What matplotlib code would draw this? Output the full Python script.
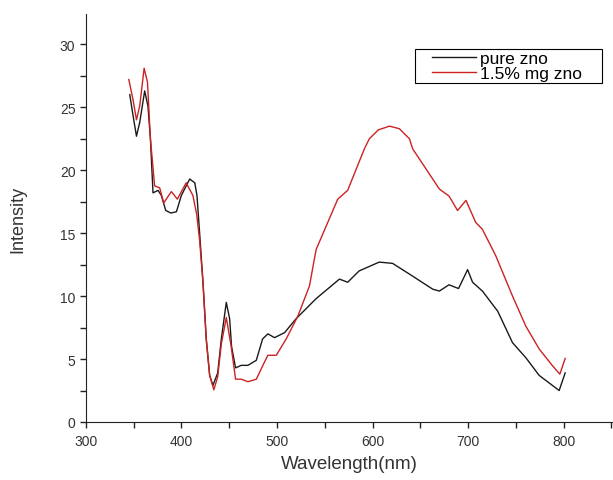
import matplotlib
matplotlib.use("Agg")
import matplotlib.pyplot as plt
from matplotlib.ticker import MultipleLocator
from matplotlib.legend_handler import HandlerLine2D

plt.rcParams['font.family'] = ['Liberation Sans', 'DejaVu Sans']

# pure zno
wl_pure = [346, 349.5, 353, 356.4, 361.6, 365, 367.6, 370.3, 375.6, 379, 383.6, 389, 394.8,
           400, 408.7, 414, 416.3, 419, 422.6, 426, 429.6, 433, 438, 441.8, 447, 450.5,
           452.5, 456.7, 462.7, 469.6, 478.4, 485, 490.5, 497.5, 508, 520, 541, 565.4,
           574, 586, 607, 621, 638.6, 663, 670, 680, 690, 699.5, 704.7, 715, 731, 746.5,
           760.5, 774.4, 786.6, 795.3, 801.6]
int_pure = [26.0, 24.3, 22.7, 23.8, 26.3, 25.1, 22.5, 18.2, 18.4, 18.0, 16.8, 16.6, 16.7,
            18.0, 19.3, 19.0, 18.0, 15.1, 11.1, 6.6, 3.7, 2.9, 3.9, 6.6, 9.5, 8.2,
            6.0, 4.3, 4.5, 4.5, 4.9, 6.6, 7.0, 6.7, 7.1, 8.2, 9.8, 11.35,
            11.1, 12.0, 12.7, 12.6, 11.75, 10.55, 10.4, 10.9, 10.6, 12.1, 11.1, 10.4, 8.8, 6.3,
            5.1, 3.7, 3.0, 2.5, 3.9]

# 1.5% mg zno
wl_mg = [345, 349.4, 353, 356.4, 361, 364.5, 367.6, 372, 377.3, 381.5, 389.5, 395.8, 405,
         412, 416, 419, 422.6, 426, 429.6, 434, 438, 441.8, 447, 452, 456.7, 462.7,
         469.6, 478.4, 485.3, 490.5, 499.3, 509.7, 521.8, 534, 541, 563.6, 574, 591.5,
         596.7, 606, 617.7, 628, 638.6, 642, 670, 680, 689, 697.8, 708, 715, 729,
         746.5, 760.5, 774.4, 788, 796, 801.6]
int_mg = [27.2, 25.6, 24.0, 25.1, 28.1, 27.0, 22.5, 18.75, 18.6, 17.4, 18.3, 17.7, 19.0,
          18.0, 16.5, 14.5, 11.1, 6.6, 3.7, 2.56, 3.6, 6.2, 8.3, 6.05, 3.4, 3.4,
          3.2, 3.4, 4.5, 5.3, 5.3, 6.6, 8.4, 10.8, 13.7, 17.7, 18.4, 21.7,
          22.5, 23.2, 23.5, 23.3, 22.5, 21.7, 18.5, 17.95, 16.8, 17.6, 15.85, 15.3, 13.2,
          10.0, 7.6, 5.8, 4.5, 3.8, 5.05]

fig = plt.figure(figsize=(6.13, 4.81), dpi=100)
ax = fig.add_axes([0.140, 0.1206, 0.859, 0.848])

ax.plot(wl_pure, int_pure, color='#1a1a1a', lw=1.0, label='pure zno')
ax.plot(wl_mg, int_mg, color='#cc2222', lw=1.0, label='1.5% mg zno')

ax.set_xlim(300, 851)
ax.set_ylim(0, 32.4)
ax.xaxis.set_major_locator(MultipleLocator(100))
ax.xaxis.set_minor_locator(MultipleLocator(50))
ax.yaxis.set_major_locator(MultipleLocator(5))
ax.yaxis.set_minor_locator(MultipleLocator(2.5))
ax.tick_params(which='both', direction='out', color='#222222', labelcolor='#333333',
               labelsize=10, width=1.0, length=4)
ax.tick_params(axis='x', pad=5)

for s in ['top', 'right']:
    ax.spines[s].set_visible(False)
for s in ['left', 'bottom']:
    ax.spines[s].set_color('#222222')

ax.set_xlabel('Wavelength(nm)', fontsize=13.5, color='#333333', labelpad=5)
ax.set_ylabel('Intensity', fontsize=13, color='#333333', labelpad=24)

# legend box: left edge padded like the original
leg = ax.legend(loc='upper left', bbox_to_anchor=(0.626, 0.843, 0.355, 0.071),
                mode='expand', fontsize=12.5,
                handlelength=3.4, handletextpad=0.2, borderpad=0.1, labelspacing=0.0,
                fancybox=False, framealpha=1, edgecolor='black', borderaxespad=0,
                handler_map={plt.Line2D: HandlerLine2D(xpad=0.85)})
leg.get_frame().set_linewidth(0.8)

fig.savefig('out.png', dpi=100)
